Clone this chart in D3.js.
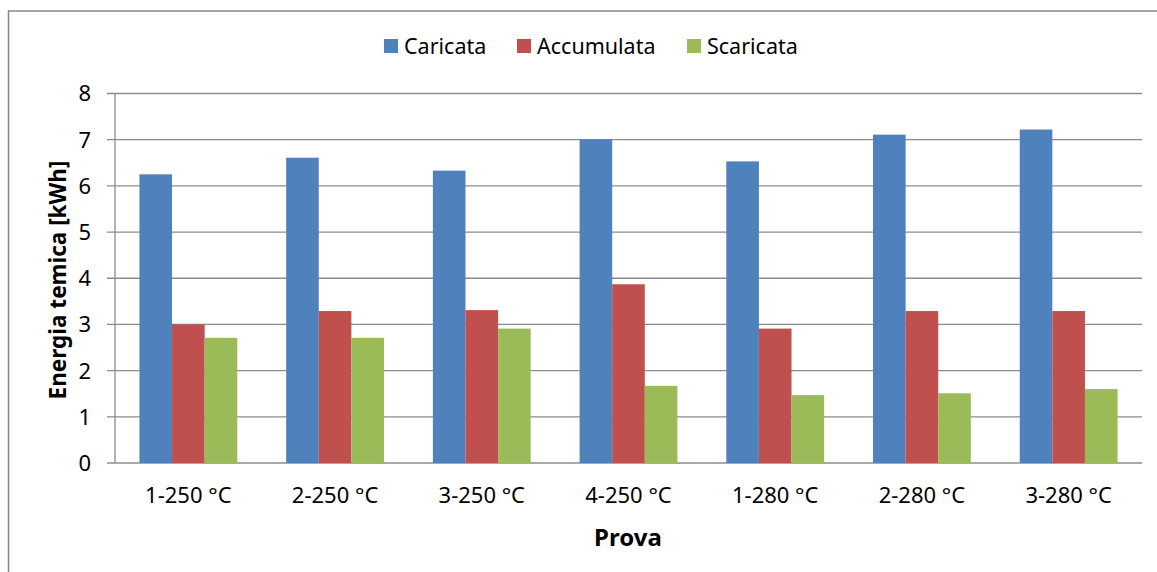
<!DOCTYPE html>
<html>
<head>
<meta charset="utf-8">
<script src="https://cdn.jsdelivr.net/npm/d3@7"></script>
<style>
  body { margin: 0; background: #fff; }
  text { font-family: "Noto Sans", "Open Sans", sans-serif; fill: #000; }
</style>
</head>
<body>
<div id="chart"></div>
<script>
// categories and series
const prove = ["1-250 °C", "2-250 °C", "3-250 °C", "4-250 °C", "1-280 °C", "2-280 °C", "3-280 °C"];
const seriesNames = ["Caricata", "Accumulata", "Scaricata"];
const caricata = [6.25, 6.61, 6.33, 7.01, 6.53, 7.11, 7.22];
const accumulata = [3.0, 3.29, 3.31, 3.87, 2.91, 3.29, 3.29];
const scaricata = [2.71, 2.71, 2.91, 1.67, 1.47, 1.51, 1.60];
const yTicks = [0, 1, 2, 3, 4, 5, 6, 7, 8];
const colors = ["#4f81bd", "#c0504d", "#9bbb59"];

const width = 1157, height = 572;
const margin = { top: 93.5, right: 15, bottom: 109, left: 115 };

const svg = d3.select("#chart")
  .append("svg")
  .attr("width", width)
  .attr("height", height);

// outer chart border
svg.append("rect")
  .attr("x", 8.5)
  .attr("y", 11)
  .attr("width", width + 20)
  .attr("height", height + 20)
  .attr("fill", "none")
  .attr("stroke", "#868686")
  .attr("stroke-width", 1.5);

const table = prove.map((p, i) => ({
  prova: p,
  values: [caricata[i], accumulata[i], scaricata[i]]
}));

const x0 = d3.scaleBand()
  .domain(prove)
  .range([margin.left, width - margin.right])
  .paddingInner(0)
  .paddingOuter(0);

// Excel style gap width 150%: each bar is band / 4.5
const barW = x0.bandwidth() / 4.5;
const x1 = d3.scaleBand()
  .domain(seriesNames)
  .range([barW * 0.75, barW * 3.75]);

const y = d3.scaleLinear()
  .domain([0, 8])
  .range([height - margin.bottom, margin.top]);

// grid lines
svg.append("g")
  .selectAll("line")
  .data(yTicks)
  .enter()
  .append("line")
  .attr("x1", margin.left - 8)
  .attr("x2", width - margin.right)
  .attr("y1", d => y(d))
  .attr("y2", d => y(d))
  .attr("stroke", "#8c8c8c")
  .attr("stroke-width", 1.3);

// y axis line
svg.append("line")
  .attr("x1", margin.left)
  .attr("x2", margin.left)
  .attr("y1", y(8))
  .attr("y2", y(0))
  .attr("stroke", "#8c8c8c")
  .attr("stroke-width", 1.3);

// y tick labels
svg.append("g")
  .selectAll("text")
  .data(yTicks)
  .enter()
  .append("text")
  .attr("x", 91)
  .attr("y", d => y(d))
  .attr("dy", "0.36em")
  .style("text-anchor", "end")
  .style("font-size", "22px")
  .text(d => d);

// bars
const groups = svg.selectAll(".grp")
  .data(table)
  .enter()
  .append("g")
  .attr("class", "grp")
  .attr("transform", d => `translate(${x0(d.prova)},0)`);

groups.selectAll("rect")
  .data(d => d.values.map((v, i) => ({ key: seriesNames[i], value: v, i: i })))
  .enter()
  .append("rect")
  .attr("x", d => x1(d.key))
  .attr("width", x1.bandwidth())
  .attr("y", d => y(d.value))
  .attr("height", d => y(0) - y(d.value))
  .attr("fill", d => colors[d.i]);

// x labels
svg.append("g")
  .selectAll("text")
  .data(prove)
  .enter()
  .append("text")
  .attr("x", d => x0(d) + x0.bandwidth() / 2)
  .attr("y", 503)
  .style("text-anchor", "middle")
  .style("font-size", "22px")
  .text(d => d);

// axis titles
svg.append("text")
  .attr("x", 628)
  .attr("y", 546)
  .style("text-anchor", "middle")
  .style("font-size", "24px")
  .style("font-weight", "bold")
  .text("Prova");

svg.append("text")
  .attr("transform", "translate(66, 280) rotate(-90)")
  .style("text-anchor", "middle")
  .style("font-size", "22.5px")
  .style("font-weight", "bold")
  .text("Energia temica [kWh]");

// legend
const legendX = [384, 517, 687];
const legend = svg.append("g")
  .selectAll("g")
  .data(seriesNames)
  .enter()
  .append("g")
  .attr("transform", (d, i) => `translate(${legendX[i]}, 39)`);

legend.append("rect")
  .attr("width", 14)
  .attr("height", 14)
  .attr("fill", (d, i) => colors[i]);

legend.append("text")
  .attr("x", 20)
  .attr("y", 14.5)
  .style("font-size", "21.5px")
  .text(d => d);
</script>
</body>
</html>
